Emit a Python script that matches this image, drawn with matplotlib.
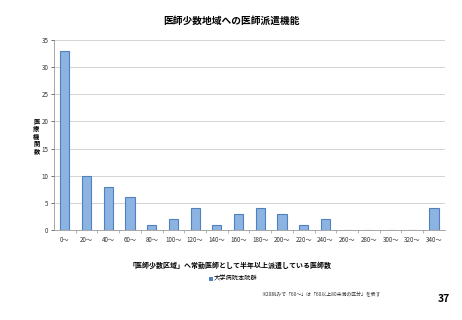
import matplotlib
matplotlib.use("Agg")
import matplotlib.pyplot as plt
from matplotlib.patches import Rectangle

plt.rcParams['font.family'] = ['Noto Sans CJK JP', 'DejaVu Sans']

categories = ["0～", "20～", "40～", "60～", "80～", "100～", "120～", "140～", "160～",
              "180～", "200～", "220～", "240～", "260～", "280～", "300～", "320～", "340～"]
values = [33, 10, 8, 6, 1, 2, 4, 1, 3, 4, 3, 1, 2, 0, 0, 0, 0, 4]
yticks = [0, 5, 10, 15, 20, 25, 30, 35]

title = "医師少数地域への医師派遣機能"
ylabel = "医\n療\n機\n関\n数"
xlabel = "「医師少数区域」へ常勤医師として半年以上派遣している医師数"
legend_label = "大学病院本院群"
footnote = "※20刻みで「60～」は「60以上80未満の区分」を表す"
page = "37"

fig = plt.figure(figsize=(4.62, 3.2), dpi=100)
ax = fig.add_axes([0.117, 0.281, 0.846, 0.594])

x = list(range(len(categories)))
ax.bar(x, values, width=0.42, color="#8DB3E2", edgecolor="#4F81BD", linewidth=0.8, zorder=3)
ax.set_xlim(-0.5, len(categories) - 0.5)
ax.set_ylim(0, 35)
ax.set_yticks(yticks)
ax.set_xticks(x)
ax.set_xticklabels(categories, fontsize=4.5, color="#333333")
ax.tick_params(axis='y', labelsize=4.5, colors="#333333", length=2, width=0.5, pad=2)
ax.set_xticks([i + 0.5 for i in x[:-1]], minor=True)
ax.tick_params(axis='x', which='major', length=0, pad=4)
ax.tick_params(axis='x', which='minor', length=2, width=0.5, colors="#999999")
ax.grid(axis='y', color="#CCCCCC", linewidth=0.6, zorder=0)
for s in ["top", "right"]:
    ax.spines[s].set_visible(False)
ax.spines["left"].set_color("#999999")
ax.spines["bottom"].set_color("#999999")
ax.spines["left"].set_linewidth(0.6)
ax.spines["bottom"].set_linewidth(0.6)

fig.text(0.5, 0.935, title, ha="center", va="center", fontsize=7, fontweight="bold")
fig.text(0.079, 0.575, ylabel, ha="center", va="center", fontsize=4.5, fontweight="bold", linespacing=1.05)
fig.text(0.497, 0.172, xlabel, ha="center", va="center", fontsize=5, fontweight="bold")
fig.patches.append(Rectangle((0.453, 0.122), 0.008, 0.012, transform=fig.transFigure,
                             facecolor="#4F81BD", edgecolor="none"))
fig.text(0.463, 0.128, legend_label, ha="left", va="center", fontsize=4.5)
fig.text(0.565, 0.078, footnote, ha="left", va="center", fontsize=3.5, color="#333333")
fig.text(0.975, 0.065, page, ha="right", va="center", fontsize=7.5, fontweight="bold")

fig.savefig("out.png", dpi=100)
